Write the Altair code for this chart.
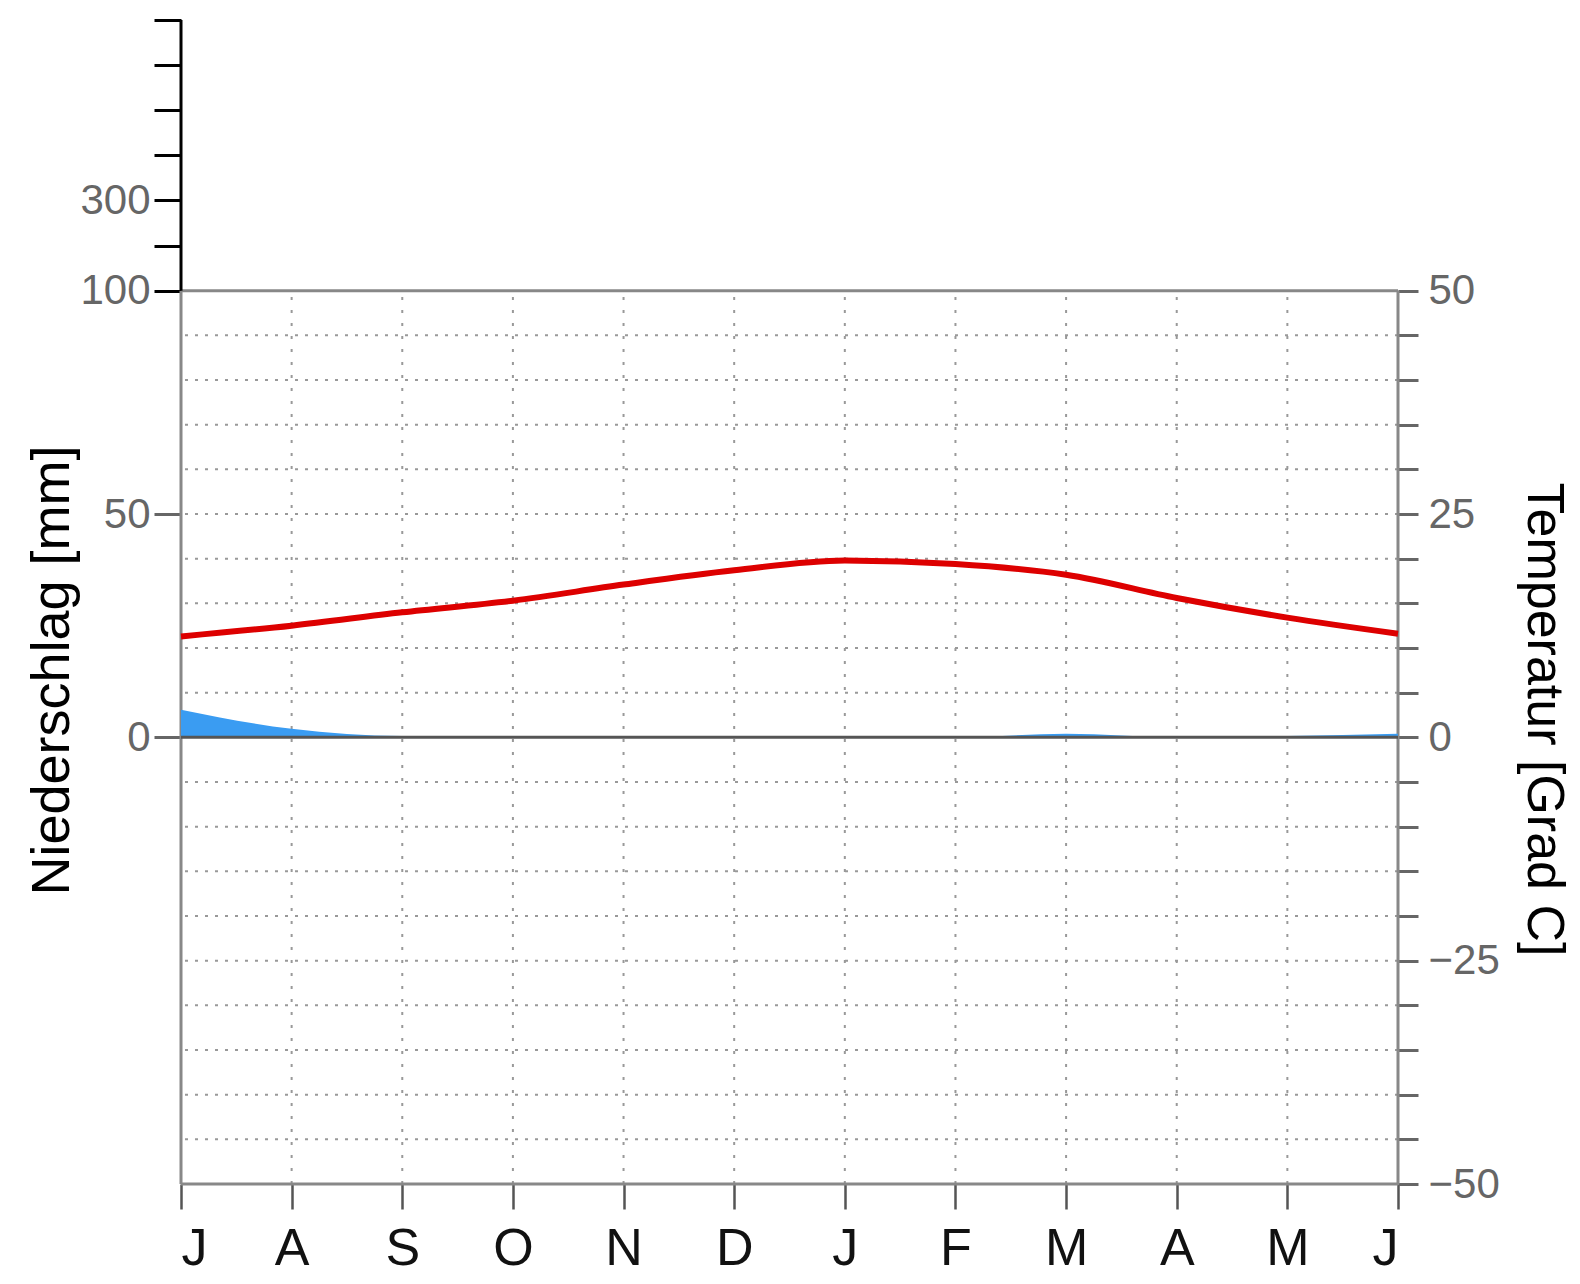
import json
import altair as alt
import pandas as pd

# ---- data ----
months = ["J", "A", "S", "O", "N", "D", "J", "F", "M", "A", "M", "J"]
temperature = [11.3, 12.5, 14.0, 15.3, 17.1, 18.7, 19.8, 19.4, 18.2, 15.6, 13.4, 11.6]
precipitation = [6.2, 1.9, 0.3, 0.3, 0.0, 0.0, 0.0, 0.0, 0.8, 0.0, 0.3, 0.8]

precip_ticks_low = [0, 50, 100]
precip_ticks_high = [200, 300, 400, 500, 600, 700]
precip_labels = [0, 50, 100, 300]
temp_ticks = list(range(-50, 55, 5))
temp_grid = [v for v in temp_ticks if v not in (-50, 0, 50)]
month_grid = list(range(1, 11))
frame_months = [0, 11]
frame_temps = [-50, 50]

W, H = 1217, 1164
TOP_MAIN = 270.7  # pixel row of 50 °C / 100 mm inside the plot

idx = list(range(len(months)))
df = pd.DataFrame({"m": idx, "month": months, "t": temperature, "p": precipitation})

# above 100 mm the precipitation axis is compressed: each 100 mm step takes
# K "linear mm" of space
px_per_deg = (H - TOP_MAIN) / 100.0
t_top = 50 + TOP_MAIN / px_per_deg
K = (TOP_MAIN / len(precip_ticks_high)) / (px_per_deg / 2.0)
p_eq_ticks = precip_ticks_low + [100 + (v - 100) / 100 * K for v in precip_ticks_high]

FONT = "Liberation Sans"
x_scale = alt.Scale(domain=[0, 11], nice=False, zero=False)
t_scale = alt.Scale(domain=[-50, t_top], nice=False, zero=False)
p_scale = alt.Scale(domain=[-100, 2 * t_top], nice=False, zero=False)

month_string = "".join(months)
x_axis = alt.Axis(
    orient="bottom", values=idx,
    labelExpr=f"substring('{month_string}', datum.value, datum.value + 1)",
    tickSize=25, tickWidth=2.5, tickColor="#555", domain=False, grid=False,
    labelFontSize=52, labelColor="#111", labelFont=FONT, labelPadding=55,
    labelBaseline="alphabetic",
)

to_mm = f"(datum.value <= 100 ? datum.value : round(100 + (datum.value - 100) * 100 / {K}))"
left_axis = alt.Axis(
    orient="left", values=p_eq_ticks,
    labelExpr=f"indexof({json.dumps(precip_labels)}, {to_mm}) >= 0 ? format({to_mm}, 'd') : ''",
    tickSize=27, tickWidth=3,
    tickColor={"condition": {"test": "datum.value >= 100", "value": "#000"}, "value": "#666"},
    domain=False, grid=False,
    labelFontSize=42, labelColor="#666", labelFont=FONT, labelPadding=4,
    title="Niederschlag [mm]", titleFontSize=54, titleFontWeight="normal",
    titleColor="#000", titleFont=FONT, titleAngle=270, titleBaseline="alphabetic",
    titleAlign="center", titleX=-113, titleY=650,
)

right_axis = alt.Axis(
    orient="right", values=temp_ticks,
    labelExpr="datum.value % 25 === 0 ? datum.label : ''",
    tickSize=20,
    tickWidth=3, tickColor="#666", domain=False, grid=False,
    labelFontSize=42, labelColor="#666", labelFont=FONT, labelPadding=10,
    title="Temperatur [Grad C]", titleFontSize=52, titleFontWeight="normal",
    titleColor="#000", titleFont=FONT, titleAngle=90, titleBaseline="alphabetic",
    titleAlign="center", titleX=129, titleY=699,
)

v_grid = alt.Chart(pd.DataFrame({"m": month_grid})).transform_calculate(
    y0=str(frame_temps[0]), y1=str(frame_temps[1])
).mark_rule(
    color="#999", strokeWidth=2, strokeDash=[3, 10]
).encode(
    x=alt.X("m:Q", scale=x_scale, axis=x_axis, title=None),
    y=alt.Y("y0:Q", scale=t_scale, axis=None), y2="y1:Q",
)

h_grid = alt.Chart(pd.DataFrame({"v": temp_grid})).mark_rule(
    color="#999", strokeWidth=2, strokeDash=[3, 7]
).encode(
    y=alt.Y("v:Q", scale=t_scale, axis=None),
)

frame_v = alt.Chart(pd.DataFrame({"m": frame_months})).transform_calculate(
    y0=str(frame_temps[0]), y1=str(frame_temps[1])
).mark_rule(
    color="#888", strokeWidth=3
).encode(
    x=alt.X("m:Q", scale=x_scale, axis=x_axis, title=None),
    y=alt.Y("y0:Q", scale=t_scale, axis=None), y2="y1:Q",
)

frame_h = alt.Chart(pd.DataFrame({"v": frame_temps})).mark_rule(
    color="#888", strokeWidth=3
).encode(
    y=alt.Y("v:Q", scale=t_scale, axis=None),
)

area = alt.Chart(df).transform_calculate(base="0").mark_area(
    color="#3a9cf2", interpolate="monotone"
).encode(
    x=alt.X("m:Q", scale=x_scale, axis=x_axis, title=None),
    y=alt.Y("p:Q", scale=p_scale, axis=left_axis),
    y2="base:Q",
)

upper_axis = alt.Chart(pd.DataFrame({"m": [frame_months[0]]})).transform_calculate(
    y0="100", y1=str(2 * t_top)
).mark_rule(color="#000", strokeWidth=3).encode(
    x=alt.X("m:Q", scale=x_scale, axis=x_axis, title=None),
    y=alt.Y("y0:Q", scale=p_scale, axis=None), y2="y1:Q",
)

zero_line = alt.Chart(pd.DataFrame({"v": [0]})).mark_rule(color="#555", strokeWidth=3).encode(
    y=alt.Y("v:Q", scale=t_scale, axis=None),
)

temp_line = alt.Chart(df).mark_line(
    color="#dd0000", strokeWidth=6, interpolate="monotone"
).encode(
    x=alt.X("m:Q", scale=x_scale, axis=x_axis, title=None),
    y=alt.Y("t:Q", scale=t_scale, axis=right_axis),
)

chart = alt.layer(
    v_grid, h_grid, frame_v, frame_h, area, zero_line, upper_axis, temp_line
).resolve_scale(y="independent").properties(
    width=W, height=H,
    padding={"left": 173, "top": 12, "right": 174, "bottom": 91},
    autosize=alt.AutoSizeParams(type="none"),
    background="white",
).configure_view(stroke=None)

chart.save("out.html", embed_options={"renderer": "svg", "actions": False})
